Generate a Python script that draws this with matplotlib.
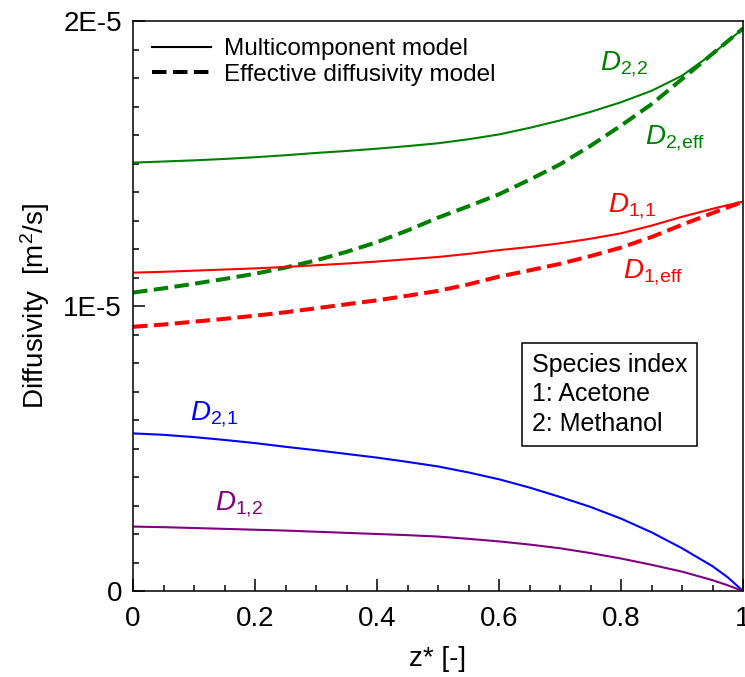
import numpy as np
import matplotlib
matplotlib.use('Agg')
import matplotlib.pyplot as plt
from matplotlib.lines import Line2D
from matplotlib.ticker import MultipleLocator, FixedLocator, FuncFormatter

plt.rcParams['font.family'] = ['Liberation Sans', 'DejaVu Sans']
plt.rcParams['mathtext.fontset'] = 'custom'
plt.rcParams['mathtext.rm'] = 'Liberation Sans'
plt.rcParams['mathtext.it'] = 'Liberation Sans:italic'

# dimensionless position
z = [0.0, 0.05, 0.1, 0.15, 0.2, 0.25, 0.3, 0.35, 0.4, 0.45, 0.5, 0.55,
     0.6, 0.65, 0.7, 0.75, 0.8, 0.85, 0.9, 0.95, 0.975, 1.0]

# diffusivities, in units of 1E-5 m2/s
d22 = [1.503, 1.507, 1.511, 1.516, 1.522, 1.529, 1.537, 1.544, 1.552, 1.561, 1.571, 1.585,
       1.602, 1.625, 1.651, 1.681, 1.715, 1.755, 1.808, 1.885, 1.928, 1.974]
d2eff = [1.047, 1.062, 1.078, 1.095, 1.113, 1.135, 1.160, 1.190, 1.224, 1.265, 1.310, 1.350,
         1.392, 1.443, 1.497, 1.562, 1.633, 1.708, 1.796, 1.885, 1.929, 1.974]
d11 = [1.117, 1.120, 1.124, 1.128, 1.132, 1.137, 1.143, 1.149, 1.156, 1.164, 1.172, 1.183,
       1.196, 1.207, 1.220, 1.236, 1.255, 1.282, 1.313, 1.341, 1.354, 1.366]
d1eff = [0.927, 0.935, 0.945, 0.955, 0.966, 0.978, 0.992, 1.006, 1.020, 1.036, 1.053, 1.076,
         1.103, 1.125, 1.148, 1.175, 1.205, 1.242, 1.285, 1.326, 1.346, 1.366]
d21 = [0.553, 0.548, 0.540, 0.530, 0.519, 0.506, 0.494, 0.481, 0.468, 0.453, 0.437, 0.416,
       0.392, 0.363, 0.330, 0.295, 0.254, 0.206, 0.150, 0.087, 0.048, 0.0]
d12 = [0.226, 0.224, 0.221, 0.218, 0.215, 0.212, 0.208, 0.204, 0.200, 0.196, 0.191, 0.183,
       0.174, 0.163, 0.150, 0.133, 0.114, 0.092, 0.068, 0.038, 0.020, 0.0]

GREEN = '#008000'
RED = '#ff0000'
BLUE = '#0000ff'
PURPLE = '#800080'

x = np.array(z)
s = 1e-5

fig = plt.figure(figsize=(7.45, 6.77), dpi=100)
ax = fig.add_axes([133/745, 86/677, 610/745, 570/677])

dash = (3.6, 1.6)
ax.plot(x, np.array(d22)*s, color=GREEN, lw=1.5)
ax.plot(x, np.array(d2eff)*s, color=GREEN, lw=2.9, dashes=dash)
ax.plot(x, np.array(d11)*s, color=RED, lw=1.5)
ax.plot(x, np.array(d1eff)*s, color=RED, lw=2.9, dashes=dash)
ax.plot(x, np.array(d21)*s, color=BLUE, lw=1.5)
ax.plot(x, np.array(d12)*s, color=PURPLE, lw=1.5)

# curve labels
lab_fs = 20
ax.text(0.766, 1.828*s, r'$D_{\mathrm{2{,}2}}$', color=GREEN, fontsize=lab_fs)
ax.text(0.839, 1.568*s, r'$D_{\mathrm{2{,}eff}}$', color=GREEN, fontsize=lab_fs)
ax.text(0.779, 1.330*s, r'$D_{\mathrm{1{,}1}}$', color=RED, fontsize=lab_fs)
ax.text(0.803, 1.098*s, r'$D_{\mathrm{1{,}eff}}$', color=RED, fontsize=lab_fs)
ax.text(0.093, 0.600*s, r'$D_{\mathrm{2{,}1}}$', color=BLUE, fontsize=lab_fs)
ax.text(0.134, 0.284*s, r'$D_{\mathrm{1{,}2}}$', color=PURPLE, fontsize=lab_fs)

ax.set_xlim(0, 1)
ax.set_ylim(0, 2e-5)
ax.xaxis.set_major_locator(MultipleLocator(0.2))
ax.xaxis.set_minor_locator(MultipleLocator(0.05))
ax.xaxis.set_major_formatter(FuncFormatter(lambda v, p: '0' if v == 0 else ('1' if abs(v-1) < 1e-9 else '%.1f' % v)))
ax.yaxis.set_major_locator(FixedLocator([0, 1e-5, 2e-5]))
ax.yaxis.set_minor_locator(MultipleLocator(1e-6))
ax.yaxis.set_major_formatter(FuncFormatter(lambda v, p: {0: '0', 1: '1E-5', 2: '2E-5'}[int(round(v/1e-5))]))

ax.tick_params(which='both', direction='in', top=False, right=False, width=1.1, labelsize=20)
ax.tick_params(axis='x', pad=11)
ax.tick_params(axis='y', pad=8)
ax.tick_params(which='major', length=8.5)
ax.tick_params(which='minor', length=4.3)
for sp in ax.spines.values():
    sp.set_linewidth(1.1)

ax.set_xlabel('z* [-]', fontsize=20, labelpad=10)
ax.set_ylabel(r'Diffusivity  [m$^2$/s]', fontsize=20, labelpad=8)

handles = [Line2D([], [], color='black', lw=1.5),
           Line2D([], [], color='black', lw=2.9, dashes=dash)]
ax.legend(handles, ['Multicomponent model', 'Effective diffusivity model'],
          loc='upper left', bbox_to_anchor=(0.031, 0.970), frameon=False,
          fontsize=17.5, handlelength=2.45, handletextpad=0.53,
          labelspacing=0.14, borderpad=0, borderaxespad=0)

ax.text(0.654, 0.345, 'Species index\n1: Acetone\n2: Methanol', transform=ax.transAxes,
        fontsize=18, ha='left', va='center', linespacing=1.3,
        bbox=dict(boxstyle='square,pad=0.4', fc='white', ec='black', lw=1.1))

fig.savefig('out.png', dpi=100)
